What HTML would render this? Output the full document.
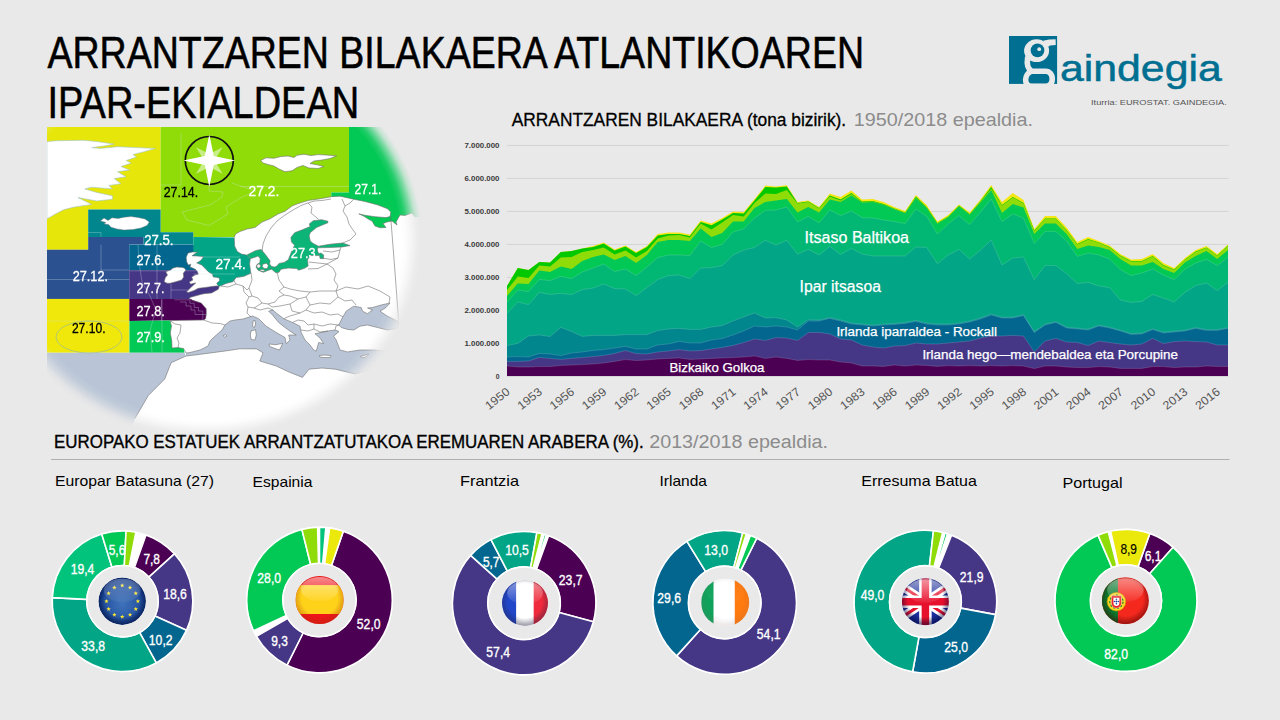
<!DOCTYPE html>
<html><head><meta charset="utf-8"><title>Arrantzaren bilakaera</title>
<style>
html,body{margin:0;padding:0;background:#e9e9e9;}
body{width:1280px;height:720px;overflow:hidden;position:relative;font-family:'Liberation Sans', sans-serif;}
svg{position:absolute;left:0;top:0;font-family:'Liberation Sans', sans-serif;}
</style></head><body>
<svg width="1280" height="720" viewBox="0 0 1280 720">
<text x="47.5" y="68.0" font-size="43.5" fill="#000" font-weight="normal" text-anchor="start" textLength="816.5" lengthAdjust="spacingAndGlyphs" stroke="#000" stroke-width=".55">ARRANTZAREN BILAKAERA ATLANTIKOAREN</text>
<text x="47.5" y="118.1" font-size="43.5" fill="#000" font-weight="normal" text-anchor="start" textLength="311.7" lengthAdjust="spacingAndGlyphs" stroke="#000" stroke-width=".55">IPAR-EKIALDEAN</text>
<text x="511.7" y="125.7" font-size="17.8" fill="#000" font-weight="normal" text-anchor="start" textLength="334.5" lengthAdjust="spacingAndGlyphs" stroke="#000" stroke-width=".3">ARRANTZAREN BILAKAERA (tona bizirik).</text>
<text x="853.7" y="125.7" font-size="17.8" fill="#8c8c8c" font-weight="normal" text-anchor="start" textLength="179.3" lengthAdjust="spacingAndGlyphs">1950/2018 epealdia.</text>
<text x="54.0" y="447.7" font-size="17.6" fill="#000" font-weight="normal" text-anchor="start" textLength="589.7" lengthAdjust="spacingAndGlyphs" stroke="#000" stroke-width=".35">EUROPAKO ESTATUEK ARRANTZATUTAKOA EREMUAREN ARABERA (%).</text>
<text x="649.2" y="447.7" font-size="17.6" fill="#8c8c8c" font-weight="normal" text-anchor="start" textLength="178.8" lengthAdjust="spacingAndGlyphs">2013/2018 epealdia.</text>
<rect x="51" y="459" width="1178.5" height="1" fill="#b0b0b0"/>
<rect x="507" y="375.9" width="721.5" height="1" fill="#d3d3d3"/>
<text x="499.5" y="379.3" font-size="7.9" fill="#3a3a3a" font-weight="bold" text-anchor="end" textLength="3.8" lengthAdjust="spacingAndGlyphs">0</text>
<rect x="507" y="342.9" width="721.5" height="1" fill="#d3d3d3"/>
<text x="499.5" y="346.3" font-size="7.9" fill="#3a3a3a" font-weight="bold" text-anchor="end" textLength="35.0" lengthAdjust="spacingAndGlyphs">1.000.000</text>
<rect x="507" y="309.9" width="721.5" height="1" fill="#d3d3d3"/>
<text x="499.5" y="313.3" font-size="7.9" fill="#3a3a3a" font-weight="bold" text-anchor="end" textLength="35.0" lengthAdjust="spacingAndGlyphs">2.000.000</text>
<rect x="507" y="276.9" width="721.5" height="1" fill="#d3d3d3"/>
<text x="499.5" y="280.3" font-size="7.9" fill="#3a3a3a" font-weight="bold" text-anchor="end" textLength="35.0" lengthAdjust="spacingAndGlyphs">3.000.000</text>
<rect x="507" y="243.9" width="721.5" height="1" fill="#d3d3d3"/>
<text x="499.5" y="247.3" font-size="7.9" fill="#3a3a3a" font-weight="bold" text-anchor="end" textLength="35.0" lengthAdjust="spacingAndGlyphs">4.000.000</text>
<rect x="507" y="210.9" width="721.5" height="1" fill="#d3d3d3"/>
<text x="499.5" y="214.3" font-size="7.9" fill="#3a3a3a" font-weight="bold" text-anchor="end" textLength="35.0" lengthAdjust="spacingAndGlyphs">5.000.000</text>
<rect x="507" y="177.9" width="721.5" height="1" fill="#d3d3d3"/>
<text x="499.5" y="181.3" font-size="7.9" fill="#3a3a3a" font-weight="bold" text-anchor="end" textLength="35.0" lengthAdjust="spacingAndGlyphs">6.000.000</text>
<rect x="507" y="144.9" width="721.5" height="1" fill="#d3d3d3"/>
<text x="499.5" y="148.3" font-size="7.9" fill="#3a3a3a" font-weight="bold" text-anchor="end" textLength="35.0" lengthAdjust="spacingAndGlyphs">7.000.000</text>
<polygon fill="#f5e616" points="507.0,376.0 507.0,286.0 517.8,268.0 528.5,270.0 539.3,262.0 550.0,262.4 560.8,252.0 571.6,251.0 582.3,248.4 593.1,246.0 603.8,242.4 614.6,249.6 625.4,245.6 636.1,252.0 646.9,246.0 657.7,234.0 668.4,232.4 679.2,232.4 689.9,234.4 700.7,220.4 711.5,223.6 722.2,218.0 733.0,211.4 743.7,212.0 754.5,199.0 765.3,185.6 776.0,186.4 786.8,185.2 797.5,202.0 808.3,200.4 819.1,207.0 829.8,193.6 840.6,197.0 851.4,190.4 862.1,199.6 872.9,199.0 883.6,202.0 894.4,207.0 905.2,211.0 915.9,195.0 926.7,205.0 937.4,221.6 948.2,215.0 959.0,204.4 969.7,212.4 980.5,199.6 991.2,185.0 1002.0,202.0 1012.8,193.0 1023.5,200.0 1034.3,229.0 1045.0,216.0 1055.8,216.0 1066.6,227.6 1077.3,242.0 1088.1,237.0 1098.9,241.0 1109.6,245.6 1120.4,254.0 1131.1,259.6 1141.9,259.0 1152.7,254.0 1163.4,263.0 1174.2,268.0 1184.9,258.0 1195.7,250.0 1206.5,246.0 1217.2,254.0 1228.0,244.4 1228.0,376.0"/>
<polygon fill="#02c802" points="507.0,376.0 507.0,286.0 517.8,268.0 528.5,270.0 539.3,262.0 550.0,262.4 560.8,252.0 571.6,251.0 582.3,248.4 593.1,247.0 603.8,243.4 614.6,250.6 625.4,246.6 636.1,253.0 646.9,247.0 657.7,235.6 668.4,234.0 679.2,234.0 689.9,236.0 700.7,222.0 711.5,225.2 722.2,219.6 733.0,213.0 743.7,213.6 754.5,200.6 765.3,187.0 776.0,187.6 786.8,186.4 797.5,203.0 808.3,201.6 819.1,208.0 829.8,195.6 840.6,199.6 851.4,193.0 862.1,201.6 872.9,201.0 883.6,204.0 894.4,208.4 905.2,212.4 915.9,196.6 926.7,207.0 937.4,223.0 948.2,216.4 959.0,205.6 969.7,214.0 980.5,201.0 991.2,187.0 1002.0,205.0 1012.8,197.0 1023.5,203.0 1034.3,230.6 1045.0,218.4 1055.8,218.4 1066.6,230.0 1077.3,244.0 1088.1,239.0 1098.9,242.4 1109.6,247.0 1120.4,255.6 1131.1,261.0 1141.9,261.0 1152.7,256.0 1163.4,265.0 1174.2,269.6 1184.9,259.4 1195.7,251.6 1206.5,247.4 1217.2,255.4 1228.0,245.6 1228.0,376.0"/>
<polygon fill="#8fdc08" points="507.0,376.0 507.0,290.0 517.8,276.4 528.5,278.0 539.3,265.4 550.0,266.4 560.8,257.4 571.6,257.0 582.3,252.0 593.1,250.0 603.8,247.4 614.6,254.4 625.4,250.4 636.1,257.4 646.9,251.0 657.7,238.4 668.4,235.4 679.2,235.0 689.9,237.4 700.7,223.6 711.5,229.6 722.2,222.4 733.0,215.0 743.7,216.4 754.5,203.0 765.3,193.6 776.0,194.0 786.8,190.0 797.5,203.6 808.3,202.0 819.1,208.6 829.8,196.4 840.6,200.4 851.4,194.0 862.1,202.0 872.9,201.6 883.6,204.4 894.4,208.8 905.2,212.8 915.9,197.2 926.7,207.6 937.4,223.4 948.2,216.8 959.0,206.0 969.7,214.4 980.5,201.6 991.2,188.4 1002.0,205.4 1012.8,197.4 1023.5,203.4 1034.3,231.0 1045.0,218.8 1055.8,218.8 1066.6,230.4 1077.3,244.4 1088.1,239.4 1098.9,242.8 1109.6,247.4 1120.4,256.0 1131.1,261.4 1141.9,261.4 1152.7,256.4 1163.4,265.4 1174.2,270.0 1184.9,259.8 1195.7,252.0 1206.5,247.8 1217.2,255.8 1228.0,246.0 1228.0,376.0"/>
<polygon fill="#02c855" points="507.0,376.0 507.0,296.0 517.8,283.4 528.5,284.0 539.3,270.6 550.0,272.0 560.8,266.6 571.6,269.0 582.3,261.0 593.1,257.0 603.8,254.4 614.6,260.0 625.4,256.0 636.1,263.0 646.9,255.0 657.7,242.0 668.4,240.0 679.2,240.0 689.9,241.0 700.7,228.4 711.5,237.0 722.2,233.0 733.0,221.6 743.7,221.6 754.5,208.0 765.3,202.0 776.0,200.4 786.8,199.0 797.5,212.4 808.3,207.0 819.1,212.4 829.8,199.6 840.6,202.0 851.4,195.6 862.1,202.6 872.9,202.0 883.6,204.8 894.4,209.2 905.2,213.2 915.9,198.0 926.7,208.0 937.4,223.8 948.2,217.2 959.0,206.4 969.7,214.8 980.5,202.4 991.2,190.0 1002.0,213.0 1012.8,204.0 1023.5,207.6 1034.3,234.0 1045.0,223.6 1055.8,223.6 1066.6,234.0 1077.3,249.0 1088.1,245.6 1098.9,247.0 1109.6,250.0 1120.4,259.0 1131.1,265.6 1141.9,265.6 1152.7,262.0 1163.4,269.0 1174.2,273.0 1184.9,262.4 1195.7,256.0 1206.5,251.0 1217.2,259.0 1228.0,250.0 1228.0,376.0"/>
<polygon fill="#02b674" points="507.0,376.0 507.0,302.4 517.8,290.0 528.5,291.6 539.3,279.4 550.0,280.6 560.8,276.4 571.6,278.6 582.3,272.0 593.1,268.0 603.8,264.0 614.6,271.6 625.4,269.0 636.1,275.6 646.9,267.0 657.7,257.6 668.4,255.0 679.2,255.0 689.9,255.6 700.7,241.0 711.5,247.6 722.2,244.4 733.0,232.0 743.7,229.0 754.5,218.0 765.3,210.4 776.0,210.0 786.8,207.0 797.5,222.0 808.3,216.4 819.1,223.0 829.8,210.0 840.6,215.6 851.4,211.0 862.1,217.6 872.9,218.0 883.6,220.0 894.4,221.6 905.2,223.6 915.9,209.0 926.7,216.4 937.4,234.0 948.2,224.0 959.0,215.6 969.7,224.6 980.5,212.0 991.2,199.0 1002.0,221.6 1012.8,214.0 1023.5,218.0 1034.3,243.6 1045.0,231.6 1055.8,231.6 1066.6,241.0 1077.3,256.4 1088.1,253.0 1098.9,255.0 1109.6,259.0 1120.4,269.6 1131.1,275.6 1141.9,273.0 1152.7,269.0 1163.4,275.0 1174.2,279.6 1184.9,269.4 1195.7,263.0 1206.5,259.4 1217.2,265.6 1228.0,257.0 1228.0,376.0"/>
<polygon fill="#02a585" points="507.0,376.0 507.0,313.6 517.8,302.0 528.5,304.6 539.3,292.4 550.0,294.4 560.8,293.4 571.6,294.6 582.3,289.6 593.1,288.0 603.8,284.0 614.6,288.6 625.4,289.0 636.1,295.6 646.9,287.6 657.7,279.6 668.4,275.6 679.2,275.0 689.9,278.6 700.7,268.0 711.5,267.6 722.2,265.6 733.0,255.0 743.7,250.0 754.5,247.6 765.3,240.4 776.0,245.0 786.8,240.4 797.5,254.0 808.3,249.4 819.1,255.0 829.8,246.4 840.6,254.4 851.4,248.4 862.1,254.0 872.9,256.0 883.6,256.0 894.4,256.0 905.2,256.0 915.9,247.0 926.7,247.4 937.4,263.6 948.2,255.0 959.0,249.4 969.7,259.0 980.5,250.0 991.2,240.0 1002.0,265.0 1012.8,258.0 1023.5,257.0 1034.3,279.6 1045.0,265.6 1055.8,265.6 1066.6,273.6 1077.3,283.6 1088.1,282.4 1098.9,286.0 1109.6,287.6 1120.4,300.0 1131.1,302.4 1141.9,301.4 1152.7,294.4 1163.4,298.0 1174.2,302.0 1184.9,292.4 1195.7,285.6 1206.5,283.0 1217.2,290.6 1228.0,282.4 1228.0,376.0"/>
<polygon fill="#02868d" points="507.0,376.0 507.0,345.6 517.8,343.4 528.5,336.0 539.3,335.0 550.0,336.6 560.8,327.4 571.6,331.6 582.3,336.4 593.1,335.4 603.8,335.4 614.6,335.4 625.4,334.6 636.1,334.6 646.9,334.6 657.7,330.6 668.4,329.0 679.2,328.4 689.9,329.4 700.7,329.4 711.5,327.0 722.2,325.6 733.0,321.0 743.7,317.0 754.5,313.0 765.3,318.0 776.0,317.6 786.8,320.0 797.5,327.0 808.3,319.6 819.1,320.0 829.8,317.6 840.6,320.0 851.4,323.0 862.1,324.0 872.9,325.0 883.6,324.0 894.4,323.4 905.2,322.4 915.9,320.4 926.7,323.0 937.4,324.0 948.2,324.0 959.0,323.0 969.7,321.0 980.5,318.0 991.2,314.0 1002.0,317.2 1012.8,317.2 1023.5,314.8 1034.3,331.8 1045.0,324.2 1055.8,321.6 1066.6,327.2 1077.3,328.2 1088.1,329.2 1098.9,325.2 1109.6,327.2 1120.4,330.2 1131.1,333.6 1141.9,333.2 1152.7,328.8 1163.4,332.2 1174.2,331.2 1184.9,330.2 1195.7,327.6 1206.5,329.6 1217.2,329.6 1228.0,327.6 1228.0,376.0"/>
<polygon fill="#02668f" points="507.0,376.0 507.0,357.0 517.8,356.6 528.5,357.0 539.3,353.4 550.0,354.0 560.8,355.6 571.6,353.0 582.3,352.0 593.1,350.4 603.8,349.6 614.6,348.0 625.4,346.4 636.1,349.0 646.9,349.0 657.7,345.0 668.4,344.0 679.2,341.4 689.9,343.0 700.7,343.0 711.5,340.0 722.2,338.6 733.0,335.0 743.7,331.0 754.5,326.0 765.3,327.0 776.0,326.0 786.8,327.0 797.5,330.0 808.3,321.0 819.1,321.0 829.8,318.4 840.6,321.0 851.4,324.0 862.1,325.0 872.9,326.0 883.6,325.0 894.4,324.4 905.2,323.4 915.9,321.4 926.7,324.0 937.4,325.0 948.2,325.0 959.0,324.0 969.7,322.0 980.5,319.0 991.2,315.0 1002.0,318.0 1012.8,318.0 1023.5,315.6 1034.3,332.6 1045.0,325.0 1055.8,322.4 1066.6,328.0 1077.3,329.0 1088.1,330.0 1098.9,326.0 1109.6,328.0 1120.4,331.0 1131.1,334.4 1141.9,334.0 1152.7,329.6 1163.4,333.0 1174.2,332.0 1184.9,331.0 1195.7,328.4 1206.5,330.4 1217.2,330.4 1228.0,328.4 1228.0,376.0"/>
<polygon fill="#463686" points="507.0,376.0 507.0,361.4 517.8,361.4 528.5,361.0 539.3,357.4 550.0,358.4 560.8,359.4 571.6,358.4 582.3,357.6 593.1,356.6 603.8,355.4 614.6,353.4 625.4,350.6 636.1,353.6 646.9,354.0 657.7,352.0 668.4,351.0 679.2,349.6 689.9,351.0 700.7,350.6 711.5,349.0 722.2,347.4 733.0,345.4 743.7,342.6 754.5,339.0 765.3,340.4 776.0,337.6 786.8,338.0 797.5,340.4 808.3,332.6 819.1,332.4 829.8,334.0 840.6,339.0 851.4,340.0 862.1,345.0 872.9,347.0 883.6,348.0 894.4,346.0 905.2,345.6 915.9,343.0 926.7,344.0 937.4,344.0 948.2,343.0 959.0,342.0 969.7,341.0 980.5,338.0 991.2,336.0 1002.0,336.0 1012.8,335.4 1023.5,336.0 1034.3,352.0 1045.0,341.0 1055.8,338.4 1066.6,342.0 1077.3,342.4 1088.1,345.6 1098.9,341.0 1109.6,342.6 1120.4,344.0 1131.1,345.0 1141.9,344.0 1152.7,338.4 1163.4,343.6 1174.2,341.6 1184.9,341.0 1195.7,341.6 1206.5,342.0 1217.2,345.0 1228.0,345.0 1228.0,376.0"/>
<polygon fill="#4b0053" points="507.0,376.0 507.0,366.0 517.8,367.0 528.5,367.0 539.3,366.6 550.0,366.6 560.8,365.4 571.6,365.0 582.3,364.6 593.1,364.0 603.8,363.0 614.6,361.4 625.4,359.6 636.1,360.6 646.9,360.0 657.7,359.0 668.4,358.4 679.2,358.0 689.9,359.4 700.7,359.0 711.5,358.4 722.2,358.0 733.0,357.6 743.7,357.0 754.5,356.0 765.3,358.4 776.0,357.0 786.8,358.4 797.5,360.4 808.3,359.6 819.1,360.0 829.8,360.0 840.6,362.0 851.4,363.0 862.1,366.0 872.9,366.0 883.6,366.4 894.4,365.0 905.2,366.0 915.9,365.0 926.7,365.4 937.4,366.4 948.2,365.6 959.0,366.0 969.7,365.6 980.5,366.0 991.2,365.6 1002.0,366.0 1012.8,365.6 1023.5,366.0 1034.3,368.6 1045.0,366.0 1055.8,366.0 1066.6,367.0 1077.3,367.6 1088.1,367.6 1098.9,366.6 1109.6,367.0 1120.4,368.4 1131.1,368.4 1141.9,368.4 1152.7,366.6 1163.4,366.6 1174.2,367.6 1184.9,367.0 1195.7,367.0 1206.5,366.0 1217.2,366.4 1228.0,366.4 1228.0,376.0"/>
<polyline fill="none" stroke="#fff" stroke-opacity=".3" stroke-width=".5" points="507.0,366.0 517.8,367.0 528.5,367.0 539.3,366.6 550.0,366.6 560.8,365.4 571.6,365.0 582.3,364.6 593.1,364.0 603.8,363.0 614.6,361.4 625.4,359.6 636.1,360.6 646.9,360.0 657.7,359.0 668.4,358.4 679.2,358.0 689.9,359.4 700.7,359.0 711.5,358.4 722.2,358.0 733.0,357.6 743.7,357.0 754.5,356.0 765.3,358.4 776.0,357.0 786.8,358.4 797.5,360.4 808.3,359.6 819.1,360.0 829.8,360.0 840.6,362.0 851.4,363.0 862.1,366.0 872.9,366.0 883.6,366.4 894.4,365.0 905.2,366.0 915.9,365.0 926.7,365.4 937.4,366.4 948.2,365.6 959.0,366.0 969.7,365.6 980.5,366.0 991.2,365.6 1002.0,366.0 1012.8,365.6 1023.5,366.0 1034.3,368.6 1045.0,366.0 1055.8,366.0 1066.6,367.0 1077.3,367.6 1088.1,367.6 1098.9,366.6 1109.6,367.0 1120.4,368.4 1131.1,368.4 1141.9,368.4 1152.7,366.6 1163.4,366.6 1174.2,367.6 1184.9,367.0 1195.7,367.0 1206.5,366.0 1217.2,366.4 1228.0,366.4"/>
<polyline fill="none" stroke="#fff" stroke-opacity=".3" stroke-width=".5" points="507.0,361.4 517.8,361.4 528.5,361.0 539.3,357.4 550.0,358.4 560.8,359.4 571.6,358.4 582.3,357.6 593.1,356.6 603.8,355.4 614.6,353.4 625.4,350.6 636.1,353.6 646.9,354.0 657.7,352.0 668.4,351.0 679.2,349.6 689.9,351.0 700.7,350.6 711.5,349.0 722.2,347.4 733.0,345.4 743.7,342.6 754.5,339.0 765.3,340.4 776.0,337.6 786.8,338.0 797.5,340.4 808.3,332.6 819.1,332.4 829.8,334.0 840.6,339.0 851.4,340.0 862.1,345.0 872.9,347.0 883.6,348.0 894.4,346.0 905.2,345.6 915.9,343.0 926.7,344.0 937.4,344.0 948.2,343.0 959.0,342.0 969.7,341.0 980.5,338.0 991.2,336.0 1002.0,336.0 1012.8,335.4 1023.5,336.0 1034.3,352.0 1045.0,341.0 1055.8,338.4 1066.6,342.0 1077.3,342.4 1088.1,345.6 1098.9,341.0 1109.6,342.6 1120.4,344.0 1131.1,345.0 1141.9,344.0 1152.7,338.4 1163.4,343.6 1174.2,341.6 1184.9,341.0 1195.7,341.6 1206.5,342.0 1217.2,345.0 1228.0,345.0"/>
<polyline fill="none" stroke="#fff" stroke-opacity=".3" stroke-width=".5" points="507.0,357.0 517.8,356.6 528.5,357.0 539.3,353.4 550.0,354.0 560.8,355.6 571.6,353.0 582.3,352.0 593.1,350.4 603.8,349.6 614.6,348.0 625.4,346.4 636.1,349.0 646.9,349.0 657.7,345.0 668.4,344.0 679.2,341.4 689.9,343.0 700.7,343.0 711.5,340.0 722.2,338.6 733.0,335.0 743.7,331.0 754.5,326.0 765.3,327.0 776.0,326.0 786.8,327.0 797.5,330.0 808.3,321.0 819.1,321.0 829.8,318.4 840.6,321.0 851.4,324.0 862.1,325.0 872.9,326.0 883.6,325.0 894.4,324.4 905.2,323.4 915.9,321.4 926.7,324.0 937.4,325.0 948.2,325.0 959.0,324.0 969.7,322.0 980.5,319.0 991.2,315.0 1002.0,318.0 1012.8,318.0 1023.5,315.6 1034.3,332.6 1045.0,325.0 1055.8,322.4 1066.6,328.0 1077.3,329.0 1088.1,330.0 1098.9,326.0 1109.6,328.0 1120.4,331.0 1131.1,334.4 1141.9,334.0 1152.7,329.6 1163.4,333.0 1174.2,332.0 1184.9,331.0 1195.7,328.4 1206.5,330.4 1217.2,330.4 1228.0,328.4"/>
<polyline fill="none" stroke="#fff" stroke-opacity=".3" stroke-width=".5" points="507.0,345.6 517.8,343.4 528.5,336.0 539.3,335.0 550.0,336.6 560.8,327.4 571.6,331.6 582.3,336.4 593.1,335.4 603.8,335.4 614.6,335.4 625.4,334.6 636.1,334.6 646.9,334.6 657.7,330.6 668.4,329.0 679.2,328.4 689.9,329.4 700.7,329.4 711.5,327.0 722.2,325.6 733.0,321.0 743.7,317.0 754.5,313.0 765.3,318.0 776.0,317.6 786.8,320.0 797.5,327.0 808.3,319.6 819.1,320.0 829.8,317.6 840.6,320.0 851.4,323.0 862.1,324.0 872.9,325.0 883.6,324.0 894.4,323.4 905.2,322.4 915.9,320.4 926.7,323.0 937.4,324.0 948.2,324.0 959.0,323.0 969.7,321.0 980.5,318.0 991.2,314.0 1002.0,317.2 1012.8,317.2 1023.5,314.8 1034.3,331.8 1045.0,324.2 1055.8,321.6 1066.6,327.2 1077.3,328.2 1088.1,329.2 1098.9,325.2 1109.6,327.2 1120.4,330.2 1131.1,333.6 1141.9,333.2 1152.7,328.8 1163.4,332.2 1174.2,331.2 1184.9,330.2 1195.7,327.6 1206.5,329.6 1217.2,329.6 1228.0,327.6"/>
<polyline fill="none" stroke="#fff" stroke-opacity=".3" stroke-width=".5" points="507.0,313.6 517.8,302.0 528.5,304.6 539.3,292.4 550.0,294.4 560.8,293.4 571.6,294.6 582.3,289.6 593.1,288.0 603.8,284.0 614.6,288.6 625.4,289.0 636.1,295.6 646.9,287.6 657.7,279.6 668.4,275.6 679.2,275.0 689.9,278.6 700.7,268.0 711.5,267.6 722.2,265.6 733.0,255.0 743.7,250.0 754.5,247.6 765.3,240.4 776.0,245.0 786.8,240.4 797.5,254.0 808.3,249.4 819.1,255.0 829.8,246.4 840.6,254.4 851.4,248.4 862.1,254.0 872.9,256.0 883.6,256.0 894.4,256.0 905.2,256.0 915.9,247.0 926.7,247.4 937.4,263.6 948.2,255.0 959.0,249.4 969.7,259.0 980.5,250.0 991.2,240.0 1002.0,265.0 1012.8,258.0 1023.5,257.0 1034.3,279.6 1045.0,265.6 1055.8,265.6 1066.6,273.6 1077.3,283.6 1088.1,282.4 1098.9,286.0 1109.6,287.6 1120.4,300.0 1131.1,302.4 1141.9,301.4 1152.7,294.4 1163.4,298.0 1174.2,302.0 1184.9,292.4 1195.7,285.6 1206.5,283.0 1217.2,290.6 1228.0,282.4"/>
<polyline fill="none" stroke="#fff" stroke-opacity=".3" stroke-width=".5" points="507.0,302.4 517.8,290.0 528.5,291.6 539.3,279.4 550.0,280.6 560.8,276.4 571.6,278.6 582.3,272.0 593.1,268.0 603.8,264.0 614.6,271.6 625.4,269.0 636.1,275.6 646.9,267.0 657.7,257.6 668.4,255.0 679.2,255.0 689.9,255.6 700.7,241.0 711.5,247.6 722.2,244.4 733.0,232.0 743.7,229.0 754.5,218.0 765.3,210.4 776.0,210.0 786.8,207.0 797.5,222.0 808.3,216.4 819.1,223.0 829.8,210.0 840.6,215.6 851.4,211.0 862.1,217.6 872.9,218.0 883.6,220.0 894.4,221.6 905.2,223.6 915.9,209.0 926.7,216.4 937.4,234.0 948.2,224.0 959.0,215.6 969.7,224.6 980.5,212.0 991.2,199.0 1002.0,221.6 1012.8,214.0 1023.5,218.0 1034.3,243.6 1045.0,231.6 1055.8,231.6 1066.6,241.0 1077.3,256.4 1088.1,253.0 1098.9,255.0 1109.6,259.0 1120.4,269.6 1131.1,275.6 1141.9,273.0 1152.7,269.0 1163.4,275.0 1174.2,279.6 1184.9,269.4 1195.7,263.0 1206.5,259.4 1217.2,265.6 1228.0,257.0"/>
<text transform="translate(510.6,393.3) rotate(-38)" font-size="11.8" fill="#555" text-anchor="end" textLength="27.5" lengthAdjust="spacingAndGlyphs">1950</text>
<text transform="translate(542.9,393.3) rotate(-38)" font-size="11.8" fill="#555" text-anchor="end" textLength="27.5" lengthAdjust="spacingAndGlyphs">1953</text>
<text transform="translate(575.2,393.3) rotate(-38)" font-size="11.8" fill="#555" text-anchor="end" textLength="27.5" lengthAdjust="spacingAndGlyphs">1956</text>
<text transform="translate(607.4,393.3) rotate(-38)" font-size="11.8" fill="#555" text-anchor="end" textLength="27.5" lengthAdjust="spacingAndGlyphs">1959</text>
<text transform="translate(639.7,393.3) rotate(-38)" font-size="11.8" fill="#555" text-anchor="end" textLength="27.5" lengthAdjust="spacingAndGlyphs">1962</text>
<text transform="translate(672.0,393.3) rotate(-38)" font-size="11.8" fill="#555" text-anchor="end" textLength="27.5" lengthAdjust="spacingAndGlyphs">1965</text>
<text transform="translate(704.3,393.3) rotate(-38)" font-size="11.8" fill="#555" text-anchor="end" textLength="27.5" lengthAdjust="spacingAndGlyphs">1968</text>
<text transform="translate(736.6,393.3) rotate(-38)" font-size="11.8" fill="#555" text-anchor="end" textLength="27.5" lengthAdjust="spacingAndGlyphs">1971</text>
<text transform="translate(768.9,393.3) rotate(-38)" font-size="11.8" fill="#555" text-anchor="end" textLength="27.5" lengthAdjust="spacingAndGlyphs">1974</text>
<text transform="translate(801.1,393.3) rotate(-38)" font-size="11.8" fill="#555" text-anchor="end" textLength="27.5" lengthAdjust="spacingAndGlyphs">1977</text>
<text transform="translate(833.4,393.3) rotate(-38)" font-size="11.8" fill="#555" text-anchor="end" textLength="27.5" lengthAdjust="spacingAndGlyphs">1980</text>
<text transform="translate(865.7,393.3) rotate(-38)" font-size="11.8" fill="#555" text-anchor="end" textLength="27.5" lengthAdjust="spacingAndGlyphs">1983</text>
<text transform="translate(898.0,393.3) rotate(-38)" font-size="11.8" fill="#555" text-anchor="end" textLength="27.5" lengthAdjust="spacingAndGlyphs">1986</text>
<text transform="translate(930.3,393.3) rotate(-38)" font-size="11.8" fill="#555" text-anchor="end" textLength="27.5" lengthAdjust="spacingAndGlyphs">1989</text>
<text transform="translate(962.6,393.3) rotate(-38)" font-size="11.8" fill="#555" text-anchor="end" textLength="27.5" lengthAdjust="spacingAndGlyphs">1992</text>
<text transform="translate(994.8,393.3) rotate(-38)" font-size="11.8" fill="#555" text-anchor="end" textLength="27.5" lengthAdjust="spacingAndGlyphs">1995</text>
<text transform="translate(1027.1,393.3) rotate(-38)" font-size="11.8" fill="#555" text-anchor="end" textLength="27.5" lengthAdjust="spacingAndGlyphs">1998</text>
<text transform="translate(1059.4,393.3) rotate(-38)" font-size="11.8" fill="#555" text-anchor="end" textLength="27.5" lengthAdjust="spacingAndGlyphs">2001</text>
<text transform="translate(1091.7,393.3) rotate(-38)" font-size="11.8" fill="#555" text-anchor="end" textLength="27.5" lengthAdjust="spacingAndGlyphs">2004</text>
<text transform="translate(1124.0,393.3) rotate(-38)" font-size="11.8" fill="#555" text-anchor="end" textLength="27.5" lengthAdjust="spacingAndGlyphs">2007</text>
<text transform="translate(1156.3,393.3) rotate(-38)" font-size="11.8" fill="#555" text-anchor="end" textLength="27.5" lengthAdjust="spacingAndGlyphs">2010</text>
<text transform="translate(1188.5,393.3) rotate(-38)" font-size="11.8" fill="#555" text-anchor="end" textLength="27.5" lengthAdjust="spacingAndGlyphs">2013</text>
<text transform="translate(1220.8,393.3) rotate(-38)" font-size="11.8" fill="#555" text-anchor="end" textLength="27.5" lengthAdjust="spacingAndGlyphs">2016</text>
<text x="804.6" y="243.0" font-size="15.8" fill="#fff" font-weight="normal" text-anchor="start" textLength="104.4" lengthAdjust="spacingAndGlyphs" stroke="#fff" stroke-width=".25">Itsaso Baltikoa</text>
<text x="799.6" y="292.2" font-size="15.8" fill="#fff" font-weight="normal" text-anchor="start" textLength="81.4" lengthAdjust="spacingAndGlyphs" stroke="#fff" stroke-width=".25">Ipar itsasoa</text>
<text x="836.4" y="336.1" font-size="12.5" fill="#fff" font-weight="normal" text-anchor="start" textLength="160.6" lengthAdjust="spacingAndGlyphs" stroke="#fff" stroke-width=".25">Irlanda iparraldea - Rockall</text>
<text x="922.4" y="359.0" font-size="12.5" fill="#fff" font-weight="normal" text-anchor="start" textLength="255.6" lengthAdjust="spacingAndGlyphs" stroke="#fff" stroke-width=".25">Irlanda hego—mendebaldea eta Porcupine</text>
<text x="669.5" y="372.1" font-size="12.9" fill="#fff" font-weight="normal" text-anchor="start" textLength="95.0" lengthAdjust="spacingAndGlyphs" stroke="#fff" stroke-width=".25">Bizkaiko Golkoa</text>
<defs><radialGradient id="mapfade" gradientUnits="userSpaceOnUse" cx="206" cy="241" r="106" gradientTransform="translate(206 241) scale(2.045 1.87) translate(-206 -241)">
<stop offset="0" stop-color="#fff"/><stop offset="0.896" stop-color="#fff"/><stop offset="0.922" stop-color="#fff" stop-opacity=".86"/><stop offset="0.948" stop-color="#fff" stop-opacity=".52"/><stop offset="0.972" stop-color="#fff" stop-opacity=".17"/><stop offset="0.992" stop-color="#fff" stop-opacity=".03"/><stop offset="1" stop-color="#fff" stop-opacity="0"/></radialGradient>
<mask id="mapmask" maskUnits="userSpaceOnUse" x="40" y="120" width="440" height="340"><rect x="47" y="127" width="420" height="330" fill="url(#mapfade)"/></mask></defs>
<g mask="url(#mapmask)">
<rect x="47" y="127" width="420" height="330" fill="#fff"/>
<polygon fill="#e6e60a" points="47,127 160.6,127 160.6,209.6 88.2,209.6 88.2,249.8 47,249.8"/>
<polygon fill="#8fdc08" points="160.6,127 349,127 349,192.4 331.3,192.4 331.3,196.7 320,198.8 308,200.5 297.5,203.8 292,206 285,211.3 278,214 270,218.8 262,222 255,227.5 247,229 240,231.5 235.5,234 234.4,236.9 193.3,236.9 193.3,232.3 160.6,232.3"/>
<polygon fill="#02c855" points="349,127 467,127 467,217 415,217 412,213 405,215.5 400,215 396,222 397,225 392,221 387,222 383,223.5 386,227.5 380,227.8 375,226 372,221 369,219.5 364,216.3 358.8,213.8 365,215.3 375,216.7 386,217.6 390,216.5 390.8,212 387.5,208.8 378,205 365,201.5 353.7,199.2 340,196.2 331.3,196.7 331.3,192.4 349,192.4"/>
<polygon fill="#02868d" points="88.2,209.6 160.6,209.6 160.6,232.3 193.3,232.3 193.3,244.6 143.4,244.6 143.4,236.9 88.2,236.9"/>
<polygon fill="#2b5191" points="47,249.8 88.2,249.8 88.2,236.9 143.4,236.9 143.4,244.6 129.2,244.6 129.2,298.9 47,298.9"/>
<rect x="129.2" y="244.6" width="72" height="26.2" fill="#02668f"/>
<polygon fill="#463686" points="129.2,270 201,270 201,286 218.3,286 219.2,286.7 218.3,289.2 211.7,292.9 204.2,293.7 201.7,294.2 196,295.8 190,297.4 189.3,298.6 191,299.6 129.2,299.6"/>
<polygon fill="#4b0053" points="129.2,298.9 191,298.9 192.5,300 201.2,303 206.2,308.7 206.3,314 205.6,318.7 203.7,320 129.2,321"/>
<polygon fill="#02c855" points="129.2,321 170,320.6 171.5,326 170.3,333 171.8,341 172,348 178,347.6 183.7,348.6 184.5,352.7 129.2,352.7"/>
<rect x="47" y="298.9" width="82.2" height="53.8" fill="#efe80a"/>
<polygon fill="#02a585" points="193.3,236.9 234.2,237.4 234.7,246.2 237.3,251.5 241.5,254.1 246.7,255.1 250.3,258.7 249.6,264 250.8,273.3 243.5,276.5 236.2,277.5 233,281.7 226,283.5 221,285.7 218.8,286.3 216,286 214,283 211,279 208,274 203,270 199,266 195,262 195,256 193.3,253.5"/>
<polygon fill="#0cb478" points="246.7,255.1 256,250.4 261.2,249.4 265.4,254.6 270.1,260.8 269.6,264 271.7,266.6 274.8,267.1 276.9,266 279,263.4 284.2,262.4 288.3,259.8 290.4,254.6 292.5,249.4 294.6,245.2 291.5,242.1 290.9,237.4 294.6,232.7 302.9,229.6 310.2,226.5 309.2,223.9 313.3,220.7 321.7,219.7 327.9,221.2 327.9,222.8 323.7,224.4 316.5,227.5 310.2,232.7 309.2,235.8 310.2,241 313.3,243.6 318.5,246.2 330,244.2 342.5,243 350,245.6 342.5,246.9 330,247.5 317.5,247.8 317.5,250.4 318.5,253.5 321,253 323.7,255 323.5,258.7 320,258.5 319.6,255.6 310.2,255.6 307.6,259.8 308.1,266 305,268.1 298.7,270.2 296.7,268.6 288.3,268.1 281,269.2 279,272.3 275.8,272.8 271.7,269.2 268.5,270.2 263.3,272.3 258.1,270.2 256,267.1 257.5,264 259.7,262.9 260.2,258.7 258.1,256.1 255,257.2 250.3,258.7"/>
<polygon fill="#b9c5d6" points="47,352.7 184.5,352.7 186,356 171.2,362.7 164.7,379 148.3,395.5 135,418.4 120,457 47,457"/>
<polygon fill="#b9c5d6" points="186,353 190,352.5 200,350 208,346 210,341 213,338 222,330 225,325 230,321 235,320 243,319 252.5,316 258.7,318.7 266.2,326.2 276.2,332.5 285,337.5 286.2,343.7 290,340 288.7,335 296.2,335 291.2,331.9 285,327.5 278.7,322.5 272.5,315 268.7,311.2 273,310 276.2,313 283.7,318.7 292.5,322.5 300,326.2 301.2,332.5 305,340 310,345 313.7,350 316.2,351.2 318.7,342.5 323.7,343.7 320,338 315,333.7 321.2,332.5 328,331 335,330 339,331.5 333.7,336.2 336.2,340 340,350 347.5,351.9 360,350 375,350 390,352 404,349 420,349 420,374 395,366 374.7,369.2 355,374 335.3,369.2 322,368 309,369.2 302.5,377.4 289,372 276.2,366 259.8,361 263,352.8 256.5,348.9 240,348.8 223.7,351.2 195,355 186,356"/>
<polygon fill="#b9c5d6" points="338.7,325 342.5,317.5 346.2,311.2 353.7,306.2 361.2,307.5 362.5,311.2 367.5,313.7 372.5,310 367.5,308 372.5,307.5 381.2,305 390,303 386,307.5 380,311.2 387.5,316.2 397.5,321.2 399,326 396.2,328.7 387.5,330 377.5,327.5 367.5,325 360,326.2 353.7,330 347.5,329.4 341.2,327.5"/>
<polygon fill="#fff" stroke="#9fc4c8" stroke-width=".6" points="46.9,141.5 57.2,140.7 83.1,140.3 96.8,141.5 114.1,144.1 105.5,145.8 91.7,147.6 100.3,148.4 117.5,146.7 136.5,147.6 155.4,148.4 143.4,151.9 133,154.5 136.5,157 126.1,160.5 131.3,163.1 121,166.5 129.6,170 117.5,171.7 126.1,176.8 114.1,178.6 121,183.7 108.9,185.5 112.4,188.9 91.7,187.2 84.8,188.9 96.8,192.4 112.4,195.8 112.4,199.2 96.8,201 77.9,197.5 91.7,204.4 74.5,207 64.1,209.6 55.5,213.9 46.9,219.1"/>
<polygon fill="#fff" stroke="#707070" stroke-width=".4" points="100.5,221 104,218 108,220.5 112,217.8 118,218.5 124,217.2 131,216.6 138,217.5 145,219 149.3,222 147,225.5 141,228 133,229.5 124,230 117,229 111,227.2 108.5,224.5 104,224 106,222.5"/>
<polygon fill="#fff" stroke="#707070" stroke-width=".6" stroke-linejoin="round" points="260.7,160.5 266,157.8 274,158.2 281,156.5 288,156 294,157.5 297,155.3 304,154.2 311,155.5 318,154.6 326,155 336.5,155.8 330,158.5 322,160 314,161 310,163.5 318,165 324,166.5 318,168.5 309,168 303,165.5 297,167.5 292,170.8 285,171.7 279,169 274,166 268,164.5 263,163"/>
<polygon fill="#fff" stroke="#707070" stroke-width=".6" stroke-linejoin="round" points="188.3,252.9 192.5,252.1 197.5,252.1 194.5,254 192.1,255.8 197,256 203.3,256.7 202,259 200.4,260.8 196.7,262.9 201.7,265 205,268.3 208.3,271.7 212.5,274.2 213.3,277.1 216,277.2 219.2,277.9 219.6,280.8 216.7,283.3 218.3,285.8 213.3,286.3 205,287.5 198.3,288.3 194.2,290.4 190.5,291.8 188.3,292.5 186.6,291.9 190,288.3 193,285.5 195.8,282.9 192.5,283.6 190.8,284.2 189.2,282.1 192.9,280 191.7,277.1 195,275 198.3,274.2 197.5,271.7 195.8,269.6 193.3,268.3 190,267.1 190.8,264.2 188.3,265 186.7,261.7 186.2,257.5 187.5,254.2"/>
<polygon fill="#fff" stroke="#707070" stroke-width=".6" stroke-linejoin="round" points="176.7,267.1 172.5,268.3 170.8,270 165.8,271.7 167.5,275 165.4,277.5 164.2,281.7 167,283.2 170,283.3 175.8,281.7 181.7,280 183.7,277.1 183.3,273.3 185.8,270 184.5,268.2 182.5,267.5"/>
<ellipse fill="#fff" stroke="#707070" stroke-width=".6" stroke-linejoin="round" cx="258.6" cy="266" rx="1.9" ry="2"/>
<polygon fill="#fff" stroke="#707070" stroke-width=".6" stroke-linejoin="round" points="262.8,264.2 266.5,263.2 268.3,265.5 267.3,268.6 264,268.4 262.3,266.5"/>
<ellipse fill="#fff" stroke="#707070" stroke-width=".6" stroke-linejoin="round" cx="262.3" cy="270.4" rx="2.3" ry=".9"/>
<polygon fill="#fff" stroke="#707070" stroke-width=".6" stroke-linejoin="round" points="253,321 255,320.4 255.6,324 254.4,327.5 252.6,326.5"/>
<polygon fill="#fff" stroke="#707070" stroke-width=".6" stroke-linejoin="round" points="251,331 255.5,329.7 256.3,335 255,340 251.2,339.5 250.3,335"/>
<polygon fill="#fff" stroke="#707070" stroke-width=".6" stroke-linejoin="round" points="269,344 276,344.7 282.6,343.3 281,347 279.5,350 275,348.6 269.5,346.3"/>
<polygon fill="#fff" stroke="#707070" stroke-width=".6" stroke-linejoin="round" points="319.5,355.5 325,355 331,355.7 330.5,357.5 324,357.6 319.7,357"/>
<polygon fill="#fff" stroke="#707070" stroke-width=".6" stroke-linejoin="round" points="360.5,356.5 364,355.5 368.8,353.7 366,356.8 362,358"/>
<polygon fill="#fff" stroke="#707070" stroke-width=".6" stroke-linejoin="round" points="223,335.7 225.5,334.7 227,336 224.5,337.2"/>
<polyline fill="none" stroke="#707070" stroke-width=".6" stroke-linejoin="round" points="331.3,196.7 320,198.8 308,200.5 297.5,203.8 292,206 285,211.3 278,214 270,218.8 262,222 255,227.5 247,229 240,231.5 235.5,234 234.4,236.9 234.2,237.4 234.7,246.2 237.3,251.5 241.5,254.1 246.7,255.1"/>
<polyline fill="none" stroke="#707070" stroke-width=".6" stroke-linejoin="round" points="246.7,255.1 256,250.4 261.2,249.4 265.4,254.6 270.1,260.8 269.6,264 271.7,266.6 274.8,267.1 276.9,266 279,263.4 284.2,262.4 288.3,259.8 290.4,254.6 292.5,249.4 294.6,245.2 291.5,242.1 290.9,237.4 294.6,232.7 302.9,229.6 310.2,226.5 309.2,223.9 313.3,220.7 321.7,219.7 327.9,221.2 327.9,222.8 323.7,224.4 316.5,227.5 310.2,232.7 309.2,235.8 310.2,241 313.3,243.6 318.5,246.2 330,244.2 342.5,243 350,245.6 342.5,246.9 330,247.5 317.5,247.8 317.5,250.4 318.5,253.5 321,253 323.7,255 323.5,258.7 320,258.5 319.6,255.6 310.2,255.6 307.6,259.8 308.1,266 305,268.1 298.7,270.2 296.7,268.6 288.3,268.1 281,269.2 279,272.3 275.8,272.8 271.7,269.2 268.5,270.2 263.3,272.3 258.1,270.2 256,267.1 257.5,264 259.7,262.9 260.2,258.7 258.1,256.1 255,257.2 250.3,258.7 246.7,255.1"/>
<polyline fill="none" stroke="#707070" stroke-width=".6" stroke-linejoin="round" points="250.3,258.7 249.6,264 250.8,273.3 243.5,276.5 236.2,277.5 233,281.7 226,283.5 221,285.7 219.2,286.7 218.3,289.2 211.7,292.9 204.2,293.7 201.7,294.2 196,295.8 190,297.4 189.3,298.6 192.5,300.5 201.2,303 206.2,308.7 206.3,314 205.6,318.7 203.7,320 170,320.6 171.5,326 170.3,333 171.8,341 172,348 178,347.6 183.7,348.6 186,353"/>
<polyline fill="none" stroke="#707070" stroke-width=".6" stroke-linejoin="round" points="186,353 190,352.5 200,350 208,346 210,341 213,338 222,330 225,325 230,321 235,320 243,319 252.5,316 258.7,318.7 266.2,326.2 276.2,332.5 285,337.5 286.2,343.7 290,340 288.7,335 296.2,335 291.2,331.9 285,327.5 278.7,322.5 272.5,315 268.7,311.2 273,310 276.2,313 283.7,318.7 292.5,322.5 300,326.2 301.2,332.5 305,340 310,345 313.7,350 316.2,351.2 318.7,342.5 323.7,343.7 320,338 315,333.7 321.2,332.5 328,331 335,330 339,331.5 333.7,336.2 336.2,340 340,350 347.5,351.9 360,350 375,350 390,352 404,349"/>
<polyline fill="none" stroke="#707070" stroke-width=".6" stroke-linejoin="round" points="331.3,196.7 340,196.2 353.7,199.2 365,201.5 378,205 387.5,208.8 390.8,212 390,216.5 386,217.6 375,216.7 365,215.3 358.8,213.8 364,216.3 369,219.5 372,221 375,226 380,227.8 386,227.5 383,223.5 387,222 392,221 397,225 396,222 400,215 405,215.5 412,213 415,217"/>
<polyline fill="none" stroke="#707070" stroke-width=".6" stroke-linejoin="round" points="338.7,325 342.5,317.5 346.2,311.2 353.7,306.2 361.2,307.5 362.5,311.2 367.5,313.7 372.5,310 367.5,308 372.5,307.5 381.2,305 390,303 386,307.5 380,311.2 387.5,316.2 397.5,321.2 399,326 396.2,328.7 387.5,330 377.5,327.5 367.5,325 360,326.2 353.7,330 347.5,329.4 341.2,327.5 338.7,325"/>
<polyline fill="none" stroke="#707070" stroke-width=".6" stroke-linejoin="round" points="186,356 195,355 223.7,351.2 240,348.8 256.5,348.9 263,352.8 259.8,361 276.2,366 289,372 302.5,377.4 309,369.2 322,368 335.3,369.2 355,374 374.7,369.2 395,366"/>
<polyline fill="none" stroke="#707070" stroke-width=".6" stroke-linejoin="round" points="186,356 171.2,362.7 164.7,379 148.3,395.5 135,418.4"/>
<polyline fill="none" stroke="#707070" stroke-width=".6" stroke-linejoin="round" points="390.6,216 392.5,240 395.6,280 398.8,323.8"/>
<polyline fill="none" stroke="#707070" stroke-width=".6" stroke-linejoin="round" points="262,252 263,244 266,236 271,228 277,221 285,215 293,210 301,205.5 308,203"/>
<polyline fill="none" stroke="#707070" stroke-width=".6" stroke-linejoin="round" points="308,203 312,207 311,213 318.7,219.4"/>
<polyline fill="none" stroke="#707070" stroke-width=".6" stroke-linejoin="round" points="308,203 314,201 322,200.5 331,199"/>
<polyline fill="none" stroke="#707070" stroke-width=".6" stroke-linejoin="round" points="342,199 345,206 343,211 347,217 349,224 353,230 356,234 350,240 342.5,243"/>
<polyline fill="none" stroke="#707070" stroke-width=".6" stroke-linejoin="round" points="345,206 350,203 353.7,199.2"/>
<polyline fill="none" stroke="#707070" stroke-width=".6" stroke-linejoin="round" points="323,251 332,252 340,250 341,246.5"/>
<polyline fill="none" stroke="#707070" stroke-width=".6" stroke-linejoin="round" points="322,258 331,259.5 338,258 340,250"/>
<polyline fill="none" stroke="#707070" stroke-width=".6" stroke-linejoin="round" points="309,262 318,263 327,264 338,258"/>
<polyline fill="none" stroke="#707070" stroke-width=".6" stroke-linejoin="round" points="308,269 318,268.5 327,264"/>
<polyline fill="none" stroke="#707070" stroke-width=".6" stroke-linejoin="round" points="327,264 333,268 336,274 334,280 338,286 336,291"/>
<polyline fill="none" stroke="#707070" stroke-width=".6" stroke-linejoin="round" points="277,272 279,280 284,287 290,289 300,291 310,292 320,291 336,291"/>
<polyline fill="none" stroke="#707070" stroke-width=".6" stroke-linejoin="round" points="336,291 346,287 358,289 368,286 380,291 390,297 389,303"/>
<polyline fill="none" stroke="#707070" stroke-width=".6" stroke-linejoin="round" points="336,291 338,297 345,301 352,300 356,305"/>
<polyline fill="none" stroke="#707070" stroke-width=".6" stroke-linejoin="round" points="310,292 306,297 298,299 290,296 284,295 279,291 284,287"/>
<polyline fill="none" stroke="#707070" stroke-width=".6" stroke-linejoin="round" points="251,273 252,280 249,288 252,296 258,298 262,303 268,304 275,302 279,297 284,295"/>
<polyline fill="none" stroke="#707070" stroke-width=".6" stroke-linejoin="round" points="233,279 236,284 243,286 247,290 249,288"/>
<polyline fill="none" stroke="#707070" stroke-width=".6" stroke-linejoin="round" points="221,286 228,287 236,284"/>
<polyline fill="none" stroke="#707070" stroke-width=".6" stroke-linejoin="round" points="243,286 244,292 249,297 252,296"/>
<polyline fill="none" stroke="#707070" stroke-width=".6" stroke-linejoin="round" points="249,297 246,303 248,307 254,308 262,303"/>
<polyline fill="none" stroke="#707070" stroke-width=".6" stroke-linejoin="round" points="248,307 247,313 251,317"/>
<polyline fill="none" stroke="#707070" stroke-width=".6" stroke-linejoin="round" points="254,308 260,310 268,308 273,310"/>
<polyline fill="none" stroke="#707070" stroke-width=".6" stroke-linejoin="round" points="268,304 272,307 280,306 290,304 298,299"/>
<polyline fill="none" stroke="#707070" stroke-width=".6" stroke-linejoin="round" points="290,304 292,311 300,313 306,310 310,305 306,297"/>
<polyline fill="none" stroke="#707070" stroke-width=".6" stroke-linejoin="round" points="306,310 314,313 322,312 330,315 338,314 343,317"/>
<polyline fill="none" stroke="#707070" stroke-width=".6" stroke-linejoin="round" points="310,305 320,303 330,304 338,297"/>
<polyline fill="none" stroke="#707070" stroke-width=".6" stroke-linejoin="round" points="283.7,318.7 290,316 300,313"/>
<polyline fill="none" stroke="#707070" stroke-width=".6" stroke-linejoin="round" points="292.5,322.5 298,320 304,321 308,325 314,324 322,326 330,324 339,325"/>
<polyline fill="none" stroke="#707070" stroke-width=".6" stroke-linejoin="round" points="301,330 308,331 314,329 314,324"/>
<polyline fill="none" stroke="#707070" stroke-width=".6" stroke-linejoin="round" points="314,329 320,332 328,331"/>
<polyline fill="none" stroke="#707070" stroke-width=".6" stroke-linejoin="round" points="335,330 336,326 339,325"/>
<polyline fill="none" stroke="#707070" stroke-width=".6" stroke-linejoin="round" points="203.7,320 212,323 220,323.5 225,325"/>
<polyline fill="none" stroke="#707070" stroke-width=".6" stroke-linejoin="round" points="170,320.6 175,324 181,325 180,333 177,338 179,343 178,347.6"/>
<polyline fill="none" stroke="#b5e07a" stroke-width=".6" points="209,185 209,191 223,192 222,197 210,205 182,212 187,220 209,225.5 228,214 226,207 240,198 256,191 240,186 232,183"/>
<polyline fill="none" stroke="#b5e07a" stroke-width=".6" points="240,186.5 349,186.5"/>
<polyline fill="none" stroke="#b5e07a" stroke-width=".6" points="160.6,185 181,185 181,133"/>
<polyline fill="none" stroke="#cfe3ee" stroke-opacity=".5" stroke-width=".6" points="47,279.5 129.2,279.5"/>
<polyline fill="none" stroke="#cfe3ee" stroke-opacity=".5" stroke-width=".6" points="101,244.6 101,270 129.2,270"/>
<polyline fill="none" stroke="#cfe3ee" stroke-opacity=".5" stroke-width=".6" points="129.2,270.8 201,270.8"/>
<polyline fill="none" stroke="#cfe3ee" stroke-opacity=".5" stroke-width=".6" points="157,244.6 157,298.9"/>
<polyline fill="none" stroke="#cfe3ee" stroke-opacity=".5" stroke-width=".6" points="129.2,321 129.2,352.7"/>
<polyline fill="none" stroke="#cfe3ee" stroke-opacity=".5" stroke-width=".6" points="162,298.9 162,352.7"/>
<polyline fill="none" stroke="#cfe3ee" stroke-opacity=".5" stroke-width=".6" points="171,284 171,298.9"/>
<polyline fill="none" stroke="#cfe3ee" stroke-opacity=".5" stroke-width=".6" points="171,290 188,290"/>
<polyline fill="none" stroke="#cfe3ee" stroke-opacity=".5" stroke-width=".6" points="193.3,257 240,257"/>
<polyline fill="none" stroke="#cfe3ee" stroke-opacity=".5" stroke-width=".6" points="193.3,274 235,274"/>
<polyline fill="none" stroke="#cfe3ee" stroke-opacity=".5" stroke-width=".6" points="47,321 129.2,321"/>
<polyline fill="none" stroke="#cfe3ee" stroke-opacity=".5" stroke-width=".6" points="88.2,232.5 101,232.5 101,236.9"/>
<polyline fill="none" stroke="#cfe3ee" stroke-opacity=".5" stroke-width=".6" points="138,244.6 139,262 142,282 150,296 156,310 150,330 152,352"/>
<polyline fill="none" stroke="#cfe3ee" stroke-opacity=".5" stroke-width=".6" points="174.4,299.8 189.9,299.8 189.9,303.2 194.2,303.2 194.2,307.5 198.5,307.5 198.5,311 202.8,311 202.8,319.6"/>
<polyline fill="none" stroke="#cfe3ee" stroke-opacity=".5" stroke-width=".6" points="161.4,299.6 161.4,321"/>
<polyline fill="none" stroke="#cfe3ee" stroke-opacity=".5" stroke-width=".6" points="180,302 186,302 186,306 191,306 191,310 195,310 195,314.5 206,314.5"/>
<ellipse cx="89" cy="337" rx="33" ry="16" fill="none" stroke="#9ab8a0" stroke-width=".7"/>
<circle cx="209.3" cy="160.5" r="24" fill="none" stroke="#111" stroke-width="1.7"/>
<polygon fill="#fff" fill-opacity=".5" points="196,147.2 207.5,153 203,158.8"/><polygon fill="#fff" fill-opacity=".5" points="222.6,147.2 211.1,153 215.6,158.8"/><polygon fill="#fff" fill-opacity=".5" points="222.6,173.8 211.1,168 215.6,162.2"/><polygon fill="#fff" fill-opacity=".5" points="196,173.8 207.5,168 203,162.2"/>
<polygon fill="#fff" points="209.3,134.5 213.8,156 235.3,160.5 213.8,165 209.3,187 204.8,165 183.3,160.5 204.8,156"/>
<text x="163.7" y="196.7" font-size="14.6" fill="#000" stroke="#000" stroke-width=".3" textLength="34.4" lengthAdjust="spacingAndGlyphs">27.14.</text>
<text x="248.6" y="195.5" font-size="14.6" fill="#fff" stroke="#fff" stroke-width=".3" textLength="30.7" lengthAdjust="spacingAndGlyphs">27.2.</text>
<text x="354.6" y="193.7" font-size="14.6" fill="#fff" stroke="#fff" stroke-width=".3" textLength="26.7" lengthAdjust="spacingAndGlyphs">27.1.</text>
<text x="144.2" y="244.6" font-size="14.6" fill="#fff" stroke="#fff" stroke-width=".3" textLength="29.3" lengthAdjust="spacingAndGlyphs">27.5.</text>
<text x="136.5" y="265.3" font-size="14.6" fill="#fff" stroke="#fff" stroke-width=".3" textLength="28.4" lengthAdjust="spacingAndGlyphs">27.6.</text>
<text x="72.7" y="280.8" font-size="14.6" fill="#fff" stroke="#fff" stroke-width=".3" textLength="35.3" lengthAdjust="spacingAndGlyphs">27.12.</text>
<text x="136.5" y="292.9" font-size="14.6" fill="#fff" stroke="#fff" stroke-width=".3" textLength="27.9" lengthAdjust="spacingAndGlyphs">27.7.</text>
<text x="136.5" y="315.8" font-size="14.6" fill="#fff" stroke="#fff" stroke-width=".3" textLength="28.4" lengthAdjust="spacingAndGlyphs">27.8.</text>
<text x="71.9" y="333" font-size="14.6" fill="#000" stroke="#000" stroke-width=".3" textLength="33.6" lengthAdjust="spacingAndGlyphs">27.10.</text>
<text x="136.5" y="342" font-size="14.6" fill="#fff" stroke="#fff" stroke-width=".3" textLength="28.4" lengthAdjust="spacingAndGlyphs">27.9.</text>
<text x="215.4" y="268.8" font-size="14.6" fill="#fff" stroke="#fff" stroke-width=".3" textLength="30.5" lengthAdjust="spacingAndGlyphs">27.4.</text>
<text x="290.8" y="257.6" font-size="14.6" fill="#fff" stroke="#fff" stroke-width=".3" textLength="28.4" lengthAdjust="spacingAndGlyphs">27.3.</text>
</g>
<circle cx="122.5" cy="601.2" r="70.9" fill="#fff"/>
<path d="M145.97,534.93 A70.3,70.3 0 0 1 174.41,553.80 L148.86,577.13 A35.7,35.7 0 0 0 134.42,567.55 Z" fill="#4b0053" stroke="#fff" stroke-width="1.6" stroke-linejoin="round"/>
<path d="M174.41,553.80 A70.3,70.3 0 0 1 186.47,630.35 L154.99,616.00 A35.7,35.7 0 0 0 148.86,577.13 Z" fill="#463686" stroke="#fff" stroke-width="1.6" stroke-linejoin="round"/>
<path d="M186.47,630.35 A70.3,70.3 0 0 1 156.26,662.86 L139.64,632.51 A35.7,35.7 0 0 0 154.99,616.00 Z" fill="#02668f" stroke="#fff" stroke-width="1.6" stroke-linejoin="round"/>
<path d="M156.26,662.86 A70.3,70.3 0 0 1 52.29,597.64 L86.85,599.39 A35.7,35.7 0 0 0 139.64,632.51 Z" fill="#02a585" stroke="#fff" stroke-width="1.6" stroke-linejoin="round"/>
<path d="M52.29,597.64 A70.3,70.3 0 0 1 101.71,534.04 L111.94,567.10 A35.7,35.7 0 0 0 86.85,599.39 Z" fill="#02c37b" stroke="#fff" stroke-width="1.6" stroke-linejoin="round"/>
<path d="M101.71,534.04 A70.3,70.3 0 0 1 126.06,530.99 L124.31,565.55 A35.7,35.7 0 0 0 111.94,567.10 Z" fill="#02c855" stroke="#fff" stroke-width="1.6" stroke-linejoin="round"/>
<path d="M126.06,530.99 A70.3,70.3 0 0 1 135.91,532.19 L129.31,566.16 A35.7,35.7 0 0 0 124.31,565.55 Z" fill="#8fdc08" stroke="#fff" stroke-width="1.6" stroke-linejoin="round"/>
<path d="M138.55,532.76 A70.3,70.3 0 0 1 140.22,533.17 L131.50,566.65 A35.7,35.7 0 0 0 130.65,566.44 Z" fill="#02c855" stroke="#fff" stroke-width="1.6" stroke-linejoin="round"/>
<circle cx="122.5" cy="601.2" r="35.7" fill="#e9e9e9" stroke="#fff" stroke-width="1.4"/>
<text x="151.7" y="563.6" font-size="14" fill="#fff" stroke="#fff" stroke-width="0.35" text-anchor="middle" textLength="16.6" lengthAdjust="spacingAndGlyphs">7,8</text>
<text x="175.0" y="599.4" font-size="14" fill="#fff" stroke="#fff" stroke-width="0.35" text-anchor="middle" textLength="23.7" lengthAdjust="spacingAndGlyphs">18,6</text>
<text x="160.7" y="644.9" font-size="14" fill="#fff" stroke="#fff" stroke-width="0.35" text-anchor="middle" textLength="23.7" lengthAdjust="spacingAndGlyphs">10,2</text>
<text x="93.2" y="651.1" font-size="14" fill="#fff" stroke="#fff" stroke-width="0.35" text-anchor="middle" textLength="23.7" lengthAdjust="spacingAndGlyphs">33,8</text>
<text x="82.5" y="574.4" font-size="14" fill="#fff" stroke="#fff" stroke-width="0.35" text-anchor="middle" textLength="23.7" lengthAdjust="spacingAndGlyphs">19,4</text>
<text x="117.0" y="554.9" font-size="14" fill="#fff" stroke="#fff" stroke-width="0.35" text-anchor="middle" textLength="16.6" lengthAdjust="spacingAndGlyphs">5,6</text>
<defs><clipPath id="fc1"><circle cx="122.2" cy="601.2" r="23.7"/></clipPath>
<radialGradient id="fs1" cx="50%" cy="45%" r="52%"><stop offset="0.72" stop-color="#001040" stop-opacity="0"/><stop offset="1" stop-color="#001040" stop-opacity="0.55"/></radialGradient>
<linearGradient id="fg1" x1="0" y1="0" x2="0" y2="1"><stop offset="0" stop-color="#fff" stop-opacity="0.28"/><stop offset="1" stop-color="#fff" stop-opacity="0.05"/></linearGradient></defs>
<g clip-path="url(#fc1)"><defs><radialGradient id="eug" cx="50%" cy="55%" r="55%"><stop offset="0" stop-color="#3f73ba"/><stop offset="0.6" stop-color="#2a58a5"/><stop offset="1" stop-color="#0b2f7c"/></radialGradient></defs><circle cx="122.2" cy="601.2" r="23.7" fill="url(#eug)"/><polygon points="122.20,583.20 122.77,584.72 124.39,584.79 123.12,585.80 123.55,587.36 122.20,586.47 120.85,587.36 121.28,585.80 120.01,584.79 121.63,584.72" fill="#ffe933"/><polygon points="130.05,585.30 130.62,586.82 132.24,586.89 130.97,587.90 131.40,589.46 130.05,588.57 128.70,589.46 129.13,587.90 127.86,586.89 129.48,586.82" fill="#ffe933"/><polygon points="135.80,591.05 136.36,592.57 137.98,592.64 136.72,593.65 137.15,595.21 135.80,594.32 134.44,595.21 134.88,593.65 133.61,592.64 135.23,592.57" fill="#ffe933"/><polygon points="137.90,598.90 138.47,600.42 140.09,600.49 138.82,601.50 139.25,603.06 137.90,602.17 136.55,603.06 136.98,601.50 135.71,600.49 137.33,600.42" fill="#ffe933"/><polygon points="135.80,606.75 136.36,608.27 137.98,608.34 136.72,609.35 137.15,610.91 135.80,610.02 134.44,610.91 134.88,609.35 133.61,608.34 135.23,608.27" fill="#ffe933"/><polygon points="130.05,612.50 130.62,614.02 132.24,614.09 130.97,615.10 131.40,616.66 130.05,615.76 128.70,616.66 129.13,615.10 127.86,614.09 129.48,614.02" fill="#ffe933"/><polygon points="122.20,614.60 122.77,616.12 124.39,616.19 123.12,617.20 123.55,618.76 122.20,617.87 120.85,618.76 121.28,617.20 120.01,616.19 121.63,616.12" fill="#ffe933"/><polygon points="114.35,612.50 114.92,614.02 116.54,614.09 115.27,615.10 115.70,616.66 114.35,615.76 113.00,616.66 113.43,615.10 112.16,614.09 113.78,614.02" fill="#ffe933"/><polygon points="108.60,606.75 109.17,608.27 110.79,608.34 109.52,609.35 109.96,610.91 108.60,610.02 107.25,610.91 107.68,609.35 106.42,608.34 108.04,608.27" fill="#ffe933"/><polygon points="106.50,598.90 107.07,600.42 108.69,600.49 107.42,601.50 107.85,603.06 106.50,602.17 105.15,603.06 105.58,601.50 104.31,600.49 105.93,600.42" fill="#ffe933"/><polygon points="108.60,591.05 109.17,592.57 110.79,592.64 109.52,593.65 109.96,595.21 108.60,594.32 107.25,595.21 107.68,593.65 106.42,592.64 108.04,592.57" fill="#ffe933"/><polygon points="114.35,585.30 114.92,586.82 116.54,586.89 115.27,587.90 115.70,589.46 114.35,588.57 113.00,589.46 113.43,587.90 112.16,586.89 113.78,586.82" fill="#ffe933"/>
<circle cx="122.2" cy="601.2" r="23.7" fill="url(#fs1)"/>
<ellipse cx="122.2" cy="590.5" rx="18.5" ry="11.8" fill="url(#fg1)"/></g>
<circle cx="319.5" cy="600" r="73.4" fill="#fff"/>
<path d="M343.32,531.21 A72.8,72.8 0 1 1 287.02,665.15 L303.17,632.75 A36.6,36.6 0 1 0 331.48,565.41 Z" fill="#4b0053" stroke="#fff" stroke-width="1.6" stroke-linejoin="round"/>
<path d="M287.02,665.15 A72.8,72.8 0 0 1 256.45,636.40 L287.80,618.30 A36.6,36.6 0 0 0 303.17,632.75 Z" fill="#463686" stroke="#fff" stroke-width="1.6" stroke-linejoin="round"/>
<path d="M255.64,634.96 A72.8,72.8 0 0 1 255.22,634.18 L287.18,617.18 A36.6,36.6 0 0 0 287.40,617.58 Z" fill="#02668f" stroke="#fff" stroke-width="1.6" stroke-linejoin="round"/>
<path d="M254.52,632.82 A72.8,72.8 0 0 1 254.12,632.03 L286.63,616.10 A36.6,36.6 0 0 0 286.83,616.50 Z" fill="#02a585" stroke="#fff" stroke-width="1.6" stroke-linejoin="round"/>
<path d="M253.52,630.77 A72.8,72.8 0 0 1 301.89,529.36 L310.65,564.49 A36.6,36.6 0 0 0 286.33,615.47 Z" fill="#02c855" stroke="#fff" stroke-width="1.6" stroke-linejoin="round"/>
<path d="M301.89,529.36 A72.8,72.8 0 0 1 317.59,527.22 L318.54,563.41 A36.6,36.6 0 0 0 310.65,564.49 Z" fill="#8fdc08" stroke="#fff" stroke-width="1.6" stroke-linejoin="round"/>
<path d="M319.50,527.20 A72.8,72.8 0 0 1 325.84,527.48 L322.69,563.54 A36.6,36.6 0 0 0 319.50,563.40 Z" fill="#02c37b" stroke="#fff" stroke-width="1.6" stroke-linejoin="round"/>
<path d="M329.63,527.91 A72.8,72.8 0 0 1 343.32,531.21 L331.48,565.41 A36.6,36.6 0 0 0 324.59,563.76 Z" fill="#ebe80c" stroke="#fff" stroke-width="1.6" stroke-linejoin="round"/>
<circle cx="319.5" cy="600" r="36.6" fill="#e9e9e9" stroke="#fff" stroke-width="1.4"/>
<text x="368.7" y="628.6" font-size="14" fill="#fff" stroke="#fff" stroke-width="0.35" text-anchor="middle" textLength="23.7" lengthAdjust="spacingAndGlyphs">52,0</text>
<text x="279.5" y="646.1" font-size="14" fill="#fff" stroke="#fff" stroke-width="0.35" text-anchor="middle" textLength="16.6" lengthAdjust="spacingAndGlyphs">9,3</text>
<text x="269.2" y="582.9" font-size="14" fill="#fff" stroke="#fff" stroke-width="0.35" text-anchor="middle" textLength="23.7" lengthAdjust="spacingAndGlyphs">28,0</text>
<defs><clipPath id="fc2"><circle cx="319.6" cy="600" r="24.1"/></clipPath>
<radialGradient id="fs2" cx="50%" cy="45%" r="52%"><stop offset="0.72" stop-color="#a03000" stop-opacity="0"/><stop offset="1" stop-color="#a03000" stop-opacity="0.35"/></radialGradient>
<linearGradient id="fg2" x1="0" y1="0" x2="0" y2="1"><stop offset="0" stop-color="#fff" stop-opacity="0.5"/><stop offset="1" stop-color="#fff" stop-opacity="0.05"/></linearGradient></defs>
<g clip-path="url(#fc2)"><rect x="295.5" y="575.9" width="48.2" height="48.2" fill="#f2141c"/><rect x="295.5" y="585.1" width="48.2" height="28.9" fill="#ffd21a"/>
<circle cx="319.6" cy="600" r="24.1" fill="url(#fs2)"/>
<ellipse cx="319.6" cy="589.2" rx="18.8" ry="12.1" fill="url(#fg2)"/></g>
<circle cx="524.1" cy="603.2" r="72.3" fill="#fff"/>
<path d="M548.62,535.82 A71.7,71.7 0 0 1 593.36,621.76 L559.11,612.58 A36.25,36.25 0 0 0 536.50,569.14 Z" fill="#4b0053" stroke="#fff" stroke-width="1.6" stroke-linejoin="round"/>
<path d="M593.36,621.76 A71.7,71.7 0 1 1 470.65,555.41 L497.08,579.04 A36.25,36.25 0 1 0 559.11,612.58 Z" fill="#463686" stroke="#fff" stroke-width="1.6" stroke-linejoin="round"/>
<path d="M470.65,555.41 A71.7,71.7 0 0 1 490.99,539.60 L507.36,571.05 A36.25,36.25 0 0 0 497.08,579.04 Z" fill="#02668f" stroke="#fff" stroke-width="1.6" stroke-linejoin="round"/>
<path d="M490.99,539.60 A71.7,71.7 0 0 1 536.92,532.66 L530.58,567.53 A36.25,36.25 0 0 0 507.36,571.05 Z" fill="#02a585" stroke="#fff" stroke-width="1.6" stroke-linejoin="round"/>
<path d="M536.92,532.66 A71.7,71.7 0 0 1 542.05,533.78 L533.18,568.10 A36.25,36.25 0 0 0 530.58,567.53 Z" fill="#8fdc08" stroke="#fff" stroke-width="1.6" stroke-linejoin="round"/>
<path d="M544.22,534.38 A71.7,71.7 0 0 1 546.26,535.01 L535.30,568.72 A36.25,36.25 0 0 0 534.27,568.41 Z" fill="#02c855" stroke="#fff" stroke-width="1.6" stroke-linejoin="round"/>
<circle cx="524.1" cy="603.2" r="36.2" fill="#e9e9e9" stroke="#fff" stroke-width="1.4"/>
<text x="570.7" y="584.9" font-size="14" fill="#fff" stroke="#fff" stroke-width="0.35" text-anchor="middle" textLength="23.7" lengthAdjust="spacingAndGlyphs">23,7</text>
<text x="498.2" y="657.4" font-size="14" fill="#fff" stroke="#fff" stroke-width="0.35" text-anchor="middle" textLength="23.7" lengthAdjust="spacingAndGlyphs">57,4</text>
<text x="491.2" y="567.4" font-size="14" fill="#fff" stroke="#fff" stroke-width="0.35" text-anchor="middle" textLength="16.6" lengthAdjust="spacingAndGlyphs">5,7</text>
<text x="517.0" y="555.4" font-size="14" fill="#fff" stroke="#fff" stroke-width="0.35" text-anchor="middle" textLength="23.7" lengthAdjust="spacingAndGlyphs">10,5</text>
<defs><clipPath id="fc3"><circle cx="525" cy="603.1" r="23"/></clipPath>
<radialGradient id="fs3" cx="50%" cy="45%" r="52%"><stop offset="0.72" stop-color="#202040" stop-opacity="0"/><stop offset="1" stop-color="#202040" stop-opacity="0.4"/></radialGradient>
<linearGradient id="fg3" x1="0" y1="0" x2="0" y2="1"><stop offset="0" stop-color="#fff" stop-opacity="0.45"/><stop offset="1" stop-color="#fff" stop-opacity="0.05"/></linearGradient></defs>
<g clip-path="url(#fc3)"><rect x="502" y="580.1" width="14.3" height="46" fill="#2246c8"/><rect x="516.3" y="580.1" width="17.5" height="46" fill="#ffffff"/><rect x="533.7" y="580.1" width="15.3" height="46" fill="#ee2a3c"/>
<circle cx="525" cy="603.1" r="23" fill="url(#fs3)"/>
<ellipse cx="525" cy="592.8" rx="17.9" ry="11.5" fill="url(#fg3)"/></g>
<circle cx="724.7" cy="602.5" r="72.4" fill="#fff"/>
<path d="M756.74,538.24 A71.8,71.8 0 1 1 676.66,655.86 L700.44,629.44 A36.25,36.25 0 1 0 740.87,570.06 Z" fill="#463686" stroke="#fff" stroke-width="1.6" stroke-linejoin="round"/>
<path d="M676.66,655.86 A71.8,71.8 0 0 1 686.97,541.41 L705.65,571.66 A36.25,36.25 0 0 0 700.44,629.44 Z" fill="#02668f" stroke="#fff" stroke-width="1.6" stroke-linejoin="round"/>
<path d="M686.97,541.41 A71.8,71.8 0 0 1 742.68,532.99 L733.78,567.40 A36.25,36.25 0 0 0 705.65,571.66 Z" fill="#02a585" stroke="#fff" stroke-width="1.6" stroke-linejoin="round"/>
<path d="M742.68,532.99 A71.8,71.8 0 0 1 746.29,534.02 L735.60,567.93 A36.25,36.25 0 0 0 733.78,567.40 Z" fill="#8fdc08" stroke="#fff" stroke-width="1.6" stroke-linejoin="round"/>
<path d="M750.43,535.47 A71.8,71.8 0 0 1 756.74,538.24 L740.87,570.06 A36.25,36.25 0 0 0 737.69,568.66 Z" fill="#02c855" stroke="#fff" stroke-width="1.6" stroke-linejoin="round"/>
<circle cx="724.7" cy="602.5" r="36.2" fill="#e9e9e9" stroke="#fff" stroke-width="1.4"/>
<text x="768.7" y="639.1" font-size="14" fill="#fff" stroke="#fff" stroke-width="0.35" text-anchor="middle" textLength="23.7" lengthAdjust="spacingAndGlyphs">54,1</text>
<text x="669.2" y="602.9" font-size="14" fill="#fff" stroke="#fff" stroke-width="0.35" text-anchor="middle" textLength="23.7" lengthAdjust="spacingAndGlyphs">29,6</text>
<text x="716.2" y="554.9" font-size="14" fill="#fff" stroke="#fff" stroke-width="0.35" text-anchor="middle" textLength="23.7" lengthAdjust="spacingAndGlyphs">13,0</text>
<defs><clipPath id="fc4"><circle cx="725.2" cy="602.5" r="24"/></clipPath>
<radialGradient id="fs4" cx="50%" cy="45%" r="52%"><stop offset="0.72" stop-color="#806060" stop-opacity="0"/><stop offset="1" stop-color="#806060" stop-opacity="0.14"/></radialGradient>
<linearGradient id="fg4" x1="0" y1="0" x2="0" y2="1"><stop offset="0" stop-color="#fff" stop-opacity="0.0"/><stop offset="1" stop-color="#fff" stop-opacity="0.05"/></linearGradient></defs>
<g clip-path="url(#fc4)"><rect x="701.2" y="578.5" width="12.5" height="48" fill="#0fa25a"/><rect x="713.7" y="578.5" width="21.1" height="48" fill="#ffffff"/><rect x="734.8" y="578.5" width="15.4" height="48" fill="#ff7a0f"/>
<circle cx="725.2" cy="602.5" r="24" fill="url(#fs4)"/>
<ellipse cx="725.2" cy="591.7" rx="18.7" ry="12.0" fill="url(#fg4)"/></g>
<circle cx="925.4" cy="601.6" r="71.9" fill="#fff"/>
<path d="M951.53,535.26 A71.3,71.3 0 0 1 995.51,614.59 L960.70,608.14 A35.9,35.9 0 0 0 938.56,568.20 Z" fill="#463686" stroke="#fff" stroke-width="1.6" stroke-linejoin="round"/>
<path d="M995.51,614.59 A71.3,71.3 0 0 1 912.65,671.75 L918.98,636.92 A35.9,35.9 0 0 0 960.70,608.14 Z" fill="#02668f" stroke="#fff" stroke-width="1.6" stroke-linejoin="round"/>
<path d="M912.65,671.75 A71.3,71.3 0 0 1 933.47,530.76 L929.46,565.93 A35.9,35.9 0 0 0 918.98,636.92 Z" fill="#02a585" stroke="#fff" stroke-width="1.6" stroke-linejoin="round"/>
<path d="M933.47,530.76 A71.3,71.3 0 0 1 942.65,532.42 L934.08,566.77 A35.9,35.9 0 0 0 929.46,565.93 Z" fill="#8fdc08" stroke="#fff" stroke-width="1.6" stroke-linejoin="round"/>
<path d="M945.05,533.06 A71.3,71.3 0 0 1 947.43,533.79 L936.49,567.46 A35.9,35.9 0 0 0 935.30,567.09 Z" fill="#02c855" stroke="#fff" stroke-width="1.6" stroke-linejoin="round"/>
<circle cx="925.4" cy="601.6" r="35.9" fill="#e9e9e9" stroke="#fff" stroke-width="1.4"/>
<text x="971.7" y="581.9" font-size="14" fill="#fff" stroke="#fff" stroke-width="0.35" text-anchor="middle" textLength="23.7" lengthAdjust="spacingAndGlyphs">21,9</text>
<text x="956.2" y="651.6" font-size="14" fill="#fff" stroke="#fff" stroke-width="0.35" text-anchor="middle" textLength="23.7" lengthAdjust="spacingAndGlyphs">25,0</text>
<text x="872.5" y="600.4" font-size="14" fill="#fff" stroke="#fff" stroke-width="0.35" text-anchor="middle" textLength="23.7" lengthAdjust="spacingAndGlyphs">49,0</text>
<defs><clipPath id="fc5"><circle cx="925.4" cy="601.7" r="23.5"/></clipPath>
<radialGradient id="fs5" cx="50%" cy="45%" r="52%"><stop offset="0.72" stop-color="#000030" stop-opacity="0"/><stop offset="1" stop-color="#000030" stop-opacity="0.5"/></radialGradient>
<linearGradient id="fg5" x1="0" y1="0" x2="0" y2="1"><stop offset="0" stop-color="#fff" stop-opacity="0.55"/><stop offset="1" stop-color="#fff" stop-opacity="0.05"/></linearGradient></defs>
<g clip-path="url(#fc5)"><rect x="901.9" y="578.2" width="47.0" height="47.0" fill="#1c2f9c"/><path d="M895.9,582.2 L954.9,621.2 M954.9,582.2 L895.9,621.2" stroke="#fff" stroke-width="8.5"/><path d="M895.9,582.2 L954.9,621.2 M954.9,582.2 L895.9,621.2" stroke="#e8112d" stroke-width="3"/><path d="M925.4,578.2 V625.2 M901.9,601.7 H948.9" stroke="#fff" stroke-width="12.5"/><path d="M925.4,578.2 V625.2 M901.9,601.7 H948.9" stroke="#e8112d" stroke-width="7.5"/>
<circle cx="925.4" cy="601.7" r="23.5" fill="url(#fs5)"/>
<ellipse cx="925.4" cy="591.1" rx="18.3" ry="11.8" fill="url(#fg5)"/></g>
<circle cx="1126" cy="600.4" r="71.6" fill="#fff"/>
<path d="M1149.82,533.51 A71,71 0 0 1 1173.14,547.31 L1149.64,573.78 A35.6,35.6 0 0 0 1137.94,566.86 Z" fill="#4b0053" stroke="#fff" stroke-width="1.6" stroke-linejoin="round"/>
<path d="M1173.14,547.31 A71,71 0 1 1 1098.03,535.14 L1111.98,567.68 A35.6,35.6 0 1 0 1149.64,573.78 Z" fill="#02c855" stroke="#fff" stroke-width="1.6" stroke-linejoin="round"/>
<path d="M1098.03,535.14 A71,71 0 0 1 1108.22,531.66 L1117.09,565.93 A35.6,35.6 0 0 0 1111.98,567.68 Z" fill="#8fdc08" stroke="#fff" stroke-width="1.6" stroke-linejoin="round"/>
<path d="M1110.63,531.08 A71,71 0 0 1 1149.82,533.51 L1137.94,566.86 A35.6,35.6 0 0 0 1118.29,565.64 Z" fill="#ebe80c" stroke="#fff" stroke-width="1.6" stroke-linejoin="round"/>
<circle cx="1126" cy="600.4" r="35.6" fill="#e9e9e9" stroke="#fff" stroke-width="1.4"/>
<text x="1128.7" y="553.6" font-size="14" fill="#000" stroke="#000" stroke-width="0.15" text-anchor="middle" textLength="16.6" lengthAdjust="spacingAndGlyphs">8,9</text>
<text x="1153.0" y="561.1" font-size="14" fill="#fff" stroke="#fff" stroke-width="0.35" text-anchor="middle" textLength="16.6" lengthAdjust="spacingAndGlyphs">6,1</text>
<text x="1116.2" y="658.6" font-size="14" fill="#fff" stroke="#fff" stroke-width="0.35" text-anchor="middle" textLength="23.7" lengthAdjust="spacingAndGlyphs">82,0</text>
<defs><clipPath id="fc6"><circle cx="1125.4" cy="600.7" r="23.5"/></clipPath>
<radialGradient id="fs6" cx="50%" cy="45%" r="52%"><stop offset="0.72" stop-color="#400000" stop-opacity="0"/><stop offset="1" stop-color="#400000" stop-opacity="0.45"/></radialGradient>
<linearGradient id="fg6" x1="0" y1="0" x2="0" y2="1"><stop offset="0" stop-color="#fff" stop-opacity="0.45"/><stop offset="1" stop-color="#fff" stop-opacity="0.05"/></linearGradient></defs>
<g clip-path="url(#fc6)"><rect x="1101.9" y="577.2" width="47.0" height="47.0" fill="#f5281e"/><rect x="1101.9" y="577.2" width="16.0" height="47.0" fill="#0a7a2e"/><circle cx="1116.4" cy="601.7" r="9.3" fill="#ffd820" stroke="#c8a000" stroke-width=".6"/><circle cx="1116.4" cy="601.7" r="6.6" fill="none" stroke="#0a7a2e" stroke-width="1.1" stroke-dasharray="2.2 1.6"/><path d="M1111.4,595.7 h10 v7.5 a5,5 0 0 1 -10,0 z" fill="#e8242a" stroke="#fff" stroke-width=".4"/><path d="M1113.4,597.7 h6 v5.3 a3,3 0 0 1 -6,0 z" fill="#fff"/><circle cx="1116.4" cy="601.5" r="0.9" fill="#1c3f9c"/><circle cx="1116.4" cy="599.2" r="0.8" fill="#1c3f9c"/><circle cx="1116.4" cy="603.8" r="0.8" fill="#1c3f9c"/><circle cx="1114.5" cy="601.5" r="0.8" fill="#1c3f9c"/><circle cx="1118.3" cy="601.5" r="0.8" fill="#1c3f9c"/>
<circle cx="1125.4" cy="600.7" r="23.5" fill="url(#fs6)"/>
<ellipse cx="1125.4" cy="590.1" rx="18.3" ry="11.8" fill="url(#fg6)"/></g>
<text x="55.0" y="486.0" font-size="14.8" fill="#000" font-weight="normal" text-anchor="start" textLength="159.0" lengthAdjust="spacingAndGlyphs">Europar Batasuna (27)</text>
<text x="252.5" y="487.0" font-size="14.8" fill="#000" font-weight="normal" text-anchor="start" textLength="60.0" lengthAdjust="spacingAndGlyphs">Espainia</text>
<text x="460.0" y="486.0" font-size="14.8" fill="#000" font-weight="normal" text-anchor="start" textLength="59.0" lengthAdjust="spacingAndGlyphs">Frantzia</text>
<text x="659.5" y="485.7" font-size="14.8" fill="#000" font-weight="normal" text-anchor="start" textLength="47.5" lengthAdjust="spacingAndGlyphs">Irlanda</text>
<text x="861.3" y="486.2" font-size="14.8" fill="#000" font-weight="normal" text-anchor="start" textLength="115.5" lengthAdjust="spacingAndGlyphs">Erresuma Batua</text>
<text x="1062.5" y="488.0" font-size="14.8" fill="#000" font-weight="normal" text-anchor="start" textLength="60.0" lengthAdjust="spacingAndGlyphs">Portugal</text>
<rect x="1009" y="36" width="48.1" height="47.9" fill="#006f91"/>
<ellipse cx="1036.6" cy="50.7" rx="12.5" ry="11.4" fill="#e9e9e9"/>
<polygon points="1043,40.8 1049,39.6 1055.6,39.2 1055.8,45 1050,45.5 1047.3,47.5" fill="#e9e9e9"/>
<circle cx="1037.5" cy="50.4" r="6.85" fill="#006f91"/>
<circle cx="1039.2" cy="49.2" r="1.9" fill="#e9e9e9"/>
<path d="M1027.6,58 C1026.8,63 1026.5,68 1031.5,71.2 L1045.5,71.2 C1054.5,71.2 1054.5,86.3 1045.5,86.3 L1031.5,86.3 C1023.3,86.3 1024,74 1031.5,71.2" fill="none" stroke="#e9e9e9" stroke-width="5.6" stroke-linejoin="round" stroke-linecap="round"/>
<path d="M1049.5,73 C1053.2,76 1053.2,82 1050.5,85" fill="none" stroke="#e9e9e9" stroke-width="4.5" stroke-linecap="round"/>
<text x="1060" y="80.8" font-size="37.5" fill="#006f91" stroke="#006f91" stroke-width=".5" textLength="161.7" lengthAdjust="spacingAndGlyphs">aindegia</text>
<text x="1091" y="105.3" font-size="7.4" fill="#555" textLength="135.8" lengthAdjust="spacingAndGlyphs">Iturria: EUROSTAT. GAINDEGIA.</text>
</svg>
</body></html>
